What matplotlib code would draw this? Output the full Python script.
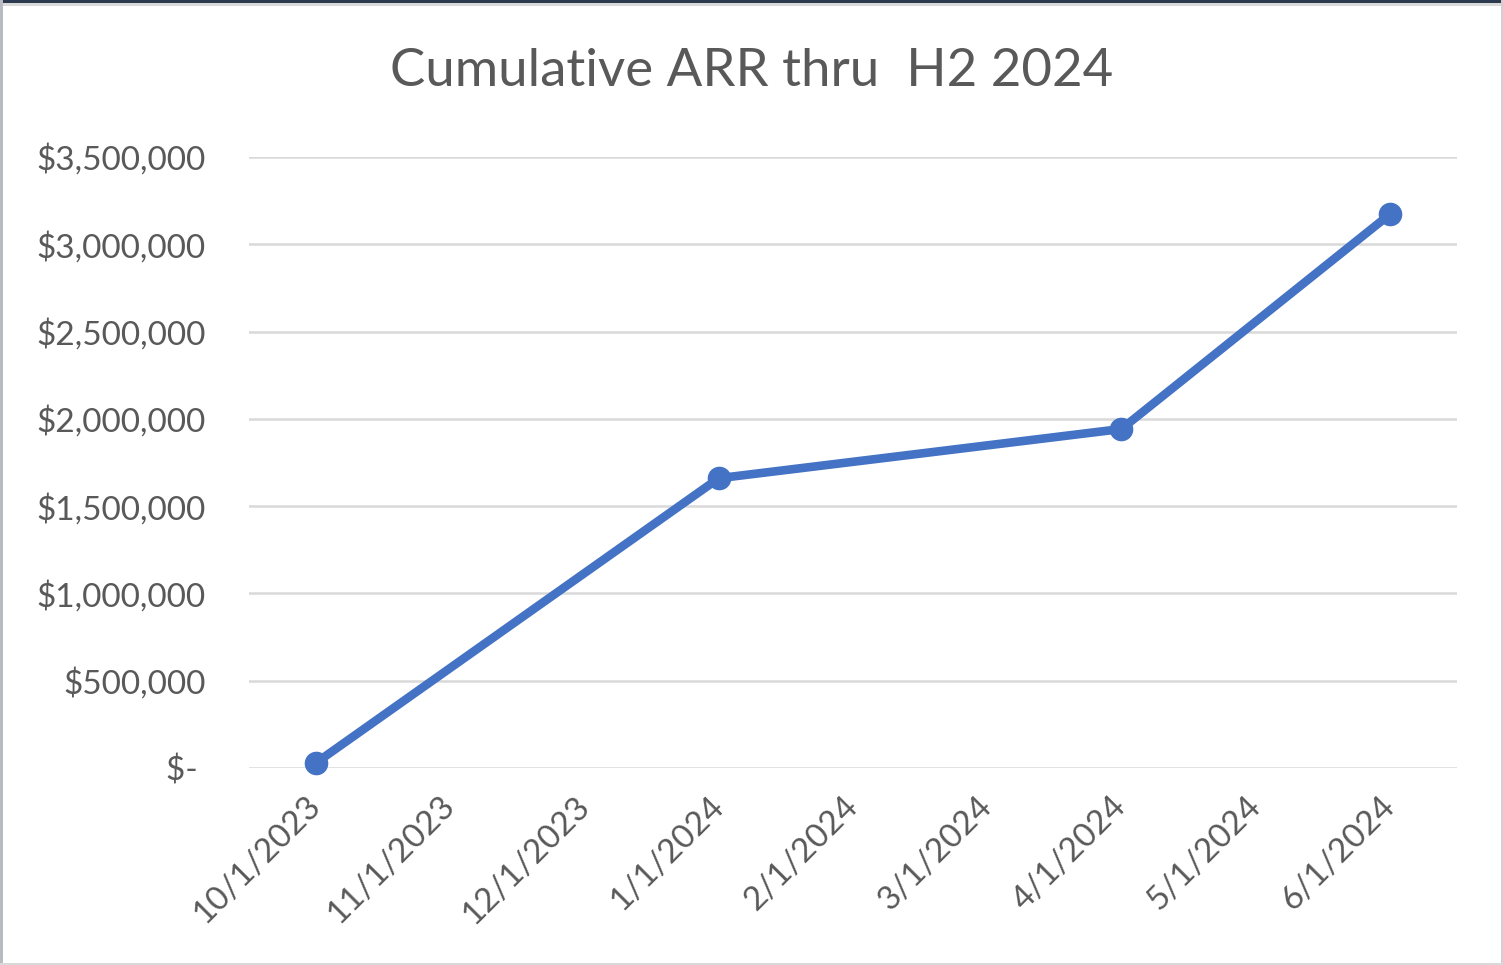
import matplotlib.pyplot as plt
from matplotlib.patches import Rectangle

# data
months = ['10/1/2023', '11/1/2023', '12/1/2023', '1/1/2024', '2/1/2024',
          '3/1/2024', '4/1/2024', '5/1/2024', '6/1/2024']
point_months = ['10/1/2023', '1/1/2024', '4/1/2024', '6/1/2024']
arr_values = [30000, 1660000, 1942000, 3172000]
y_ticks = [0, 500000, 1000000, 1500000, 2000000, 2500000, 3000000, 3500000]
y_labels = ['$- ', '$500,000', '$1,000,000', '$1,500,000', '$2,000,000',
            '$2,500,000', '$3,000,000', '$3,500,000']

plt.rcParams['font.family'] = ['Lato', 'DejaVu Sans']
text_color = '#595959'
grid_color = '#D9D9D9'
line_color = '#4472C4'

W, H = 1503, 965
fig = plt.figure(figsize=(W / 100, H / 100), dpi=100)
ax = fig.add_axes([249 / W, 1 - 768 / H, (1457 - 249) / W, (768 - 157) / H])

x_pos = [months.index(m) for m in point_months]
ax.plot(x_pos, arr_values, color=line_color, linewidth=6.2,
        marker='o', markersize=16, solid_capstyle='round', zorder=3,
        clip_on=False)

ax.set_xlim(-0.5, len(months) - 0.5)
ax.set_ylim(0, 3500000)
ax.set_yticks(y_ticks)
ax.set_yticklabels(y_labels)
ax.set_xticks(range(len(months)))
ax.set_xticklabels(months, rotation=45, ha='right', rotation_mode='anchor')

ax.tick_params(axis='y', length=0, pad=31, labelsize=24, labelcolor=text_color)
ax.tick_params(axis='x', length=0, pad=24, labelsize=24, labelcolor=text_color)
for lbl in ax.get_xticklabels():
    lbl.set_va('center')

ax.grid(axis='y', color=grid_color, linewidth=1.8)
ax.set_axisbelow(True)
for s in ax.spines.values():
    s.set_visible(False)

fig.text(0.5, 1 - 72 / H, 'Cumulative ARR thru  H2 2024', ha='center',
         va='center', fontsize=38, color=text_color)

# frame like the screenshot
fig.add_artist(Rectangle((0, 1 - 3 / H), 1, 3 / H, transform=fig.transFigure,
                         color='#2B3A4F', lw=0))
fig.add_artist(Rectangle((0, 1 - 6 / H), 1, 3 / H, transform=fig.transFigure,
                         color='#D9D9D9', lw=0))
fig.add_artist(Rectangle((0, 0), 2.5 / W, 1, transform=fig.transFigure,
                         color='#B8BCC2', lw=0))
fig.add_artist(Rectangle((1 - 2 / W, 0), 2 / W, 1, transform=fig.transFigure,
                         color='#D0D0D0', lw=0))
fig.add_artist(Rectangle((0, 0), 1, 2.5 / H, transform=fig.transFigure,
                         color='#D9D9D9', lw=0))

fig.savefig('out.png', dpi=100)
